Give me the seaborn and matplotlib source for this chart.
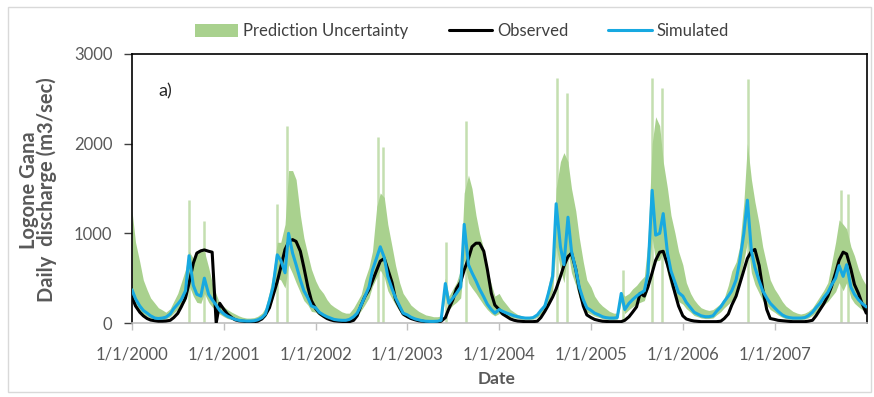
import numpy as np
import pandas as pd
import matplotlib
matplotlib.use("Agg")
import matplotlib.pyplot as plt
import seaborn as sns
from matplotlib.patches import Patch, Rectangle
from matplotlib.lines import Line2D

# ---------------- data (semi-monthly readings: 1st and 15th of each month) ----------------
observed_2000 = [290, 190, 120, 80, 50, 33, 25, 20, 20, 22, 30, 60, 107, 180, 280, 444, 666, 780, 805, 815, 800, 790, 0, 220]
observed_2001 = [150, 100, 60, 35, 25, 20, 15, 15, 15, 20, 45, 90, 170, 300, 460, 620, 820, 900, 930, 910, 800, 620, 400, 250]
observed_2002 = [160, 110, 75, 50, 35, 25, 20, 18, 15, 15, 30, 80, 200, 290, 370, 470, 590, 690, 720, 600, 450, 260, 170, 100]
observed_2003 = [70, 50, 35, 25, 20, 15, 15, 15, 15, 20, 60, 160, 260, 380, 460, 590, 720, 850, 890, 890, 800, 600, 330, 200]
observed_2004 = [150, 100, 70, 45, 30, 22, 18, 15, 15, 15, 20, 60, 130, 200, 290, 380, 520, 640, 740, 780, 600, 370, 190, 90]
observed_2005 = [60, 40, 28, 20, 18, 15, 15, 15, 15, 30, 70, 120, 180, 330, 300, 400, 560, 700, 790, 800, 650, 500, 330, 190]
observed_2006 = [80, 45, 30, 22, 18, 15, 15, 15, 15, 15, 20, 50, 100, 200, 300, 430, 590, 720, 800, 820, 640, 380, 150, 50]
observed_2007 = [40, 30, 25, 20, 18, 15, 15, 15, 15, 20, 30, 80, 150, 210, 300, 400, 560, 700, 790, 770, 600, 430, 330, 220]
observed_end = [110]

simulated_2000 = [370, 270, 190, 140, 110, 80, 55, 50, 55, 65, 100, 160, 210, 260, 360, 750, 420, 320, 300, 500, 320, 260, 200, 140]
simulated_2001 = [100, 75, 55, 40, 30, 25, 22, 22, 25, 35, 60, 100, 250, 400, 760, 700, 560, 1000, 780, 650, 480, 360, 280, 190]
simulated_2002 = [170, 120, 90, 70, 55, 40, 33, 30, 30, 40, 70, 110, 200, 290, 400, 590, 730, 850, 730, 520, 380, 280, 190, 110]
simulated_2003 = [90, 65, 45, 35, 25, 20, 18, 18, 20, 30, 440, 220, 280, 330, 400, 1100, 650, 560, 470, 380, 290, 210, 150, 110]
simulated_2004 = [150, 130, 110, 95, 80, 70, 60, 55, 55, 60, 90, 140, 190, 330, 520, 1330, 850, 650, 1180, 800, 600, 400, 260, 170]
simulated_2005 = [140, 110, 90, 70, 60, 55, 55, 60, 330, 150, 220, 260, 300, 330, 360, 550, 1480, 980, 1000, 1220, 780, 580, 450, 340]
simulated_2006 = [300, 230, 170, 120, 100, 80, 70, 70, 80, 130, 180, 240, 300, 360, 480, 680, 1000, 1370, 800, 620, 470, 360, 280, 220]
simulated_2007 = [170, 130, 90, 70, 60, 55, 55, 55, 60, 80, 120, 170, 220, 280, 340, 420, 500, 640, 520, 650, 400, 320, 260, 220]
simulated_end = [180]

upper_2000 = [1250, 900, 680, 480, 370, 280, 220, 170, 145, 120, 160, 240, 330, 450, 600, 800, 720, 780, 800, 800, 620, 450, 320, 220]
upper_2001 = [180, 150, 120, 100, 80, 65, 55, 55, 60, 75, 110, 170, 350, 550, 900, 900, 1100, 1700, 1700, 1600, 1200, 950, 760, 600]
upper_2002 = [470, 390, 330, 260, 210, 180, 150, 125, 110, 110, 170, 240, 320, 480, 620, 800, 1300, 1450, 1400, 1100, 850, 640, 450, 330]
upper_2003 = [260, 200, 160, 130, 110, 90, 80, 70, 70, 80, 500, 300, 380, 450, 600, 1450, 1650, 1500, 1200, 1000, 820, 600, 430, 300]
upper_2004 = [330, 260, 200, 150, 120, 95, 80, 65, 50, 50, 90, 160, 240, 420, 650, 1500, 1800, 1900, 1800, 1500, 1250, 950, 680, 480]
upper_2005 = [400, 300, 230, 190, 160, 130, 110, 110, 350, 300, 330, 380, 420, 470, 520, 900, 2000, 2300, 2200, 1800, 1500, 1200, 1000, 800]
upper_2006 = [650, 450, 330, 260, 210, 170, 150, 140, 150, 180, 220, 280, 420, 580, 680, 850, 1350, 2000, 1600, 1350, 1100, 850, 650, 480]
upper_2007 = [380, 320, 240, 190, 160, 130, 110, 100, 110, 130, 170, 230, 300, 360, 450, 650, 900, 1150, 1100, 1050, 850, 750, 600, 500]
upper_end = [420]

lower_2000 = [260, 190, 130, 100, 75, 55, 40, 35, 38, 45, 70, 110, 150, 180, 250, 420, 300, 230, 220, 330, 230, 180, 140, 100]
lower_2001 = [70, 50, 38, 28, 20, 17, 15, 15, 17, 25, 40, 70, 170, 280, 500, 480, 390, 650, 550, 450, 340, 250, 200, 130]
lower_2002 = [120, 85, 63, 50, 38, 28, 23, 21, 21, 28, 50, 77, 140, 200, 280, 410, 510, 590, 510, 360, 270, 200, 130, 80]
lower_2003 = [63, 45, 32, 25, 18, 14, 12, 12, 14, 21, 300, 150, 200, 230, 280, 700, 450, 390, 330, 270, 200, 150, 105, 80]
lower_2004 = [105, 90, 77, 66, 56, 49, 42, 38, 38, 42, 63, 98, 130, 230, 360, 850, 600, 450, 800, 560, 420, 280, 180, 120]
lower_2005 = [98, 77, 63, 49, 42, 38, 38, 42, 230, 105, 150, 180, 210, 230, 250, 380, 950, 690, 700, 800, 550, 400, 310, 240]
lower_2006 = [210, 160, 120, 84, 70, 56, 49, 49, 56, 90, 126, 170, 210, 250, 340, 480, 700, 900, 560, 430, 330, 250, 200, 150]
lower_2007 = [120, 90, 63, 49, 42, 38, 38, 38, 42, 56, 84, 120, 150, 200, 240, 290, 350, 450, 360, 450, 280, 220, 180, 150]
lower_end = [125]

# thin daily peaks of the upper uncertainty bound
spike_dates = ["2000-08-16", "2000-10-12", "2001-07-30", "2001-09-08", "2002-09-06", "2002-09-27",
               "2003-06-04", "2003-08-23", "2004-08-19", "2004-09-28", "2005-05-07", "2005-09-01",
               "2005-10-10", "2006-09-16", "2007-09-21", "2007-10-21"]
spike_tops = [1370, 1140, 1330, 2200, 2070, 1960, 900, 2250, 2730, 2570, 590, 2730, 2620, 2720, 1480, 1440]

year_ticks = ["2000-01-01", "2001-01-01", "2002-01-01", "2003-01-01",
              "2004-01-01", "2005-01-01", "2006-01-01", "2007-01-01"]
year_labels = ["1/1/2000", "1/1/2001", "1/1/2002", "1/1/2003",
               "1/1/2004", "1/1/2005", "1/1/2006", "1/1/2007"]
y_ticks = [0, 1000, 2000, 3000]

# ---------------- assemble ----------------
def join(parts):
    out = []
    for p in parts:
        out += p
    return out

observed = join([observed_2000, observed_2001, observed_2002, observed_2003, observed_2004,
                 observed_2005, observed_2006, observed_2007, observed_end])
simulated = join([simulated_2000, simulated_2001, simulated_2002, simulated_2003, simulated_2004,
                  simulated_2005, simulated_2006, simulated_2007, simulated_end])
upper = join([upper_2000, upper_2001, upper_2002, upper_2003, upper_2004,
              upper_2005, upper_2006, upper_2007, upper_end])
lower = join([lower_2000, lower_2001, lower_2002, lower_2003, lower_2004,
              lower_2005, lower_2006, lower_2007, lower_end])

dates = pd.date_range("2000-01-01", "2008-01-01", freq="SMS")
df = pd.DataFrame({"date": dates, "observed": observed, "simulated": simulated,
                   "upper": upper, "lower": lower})

# ---------------- style ----------------
sns.set_theme(style="white")
plt.rcParams["font.family"] = ["Lato", "DejaVu Sans"]

GREEN = "#A9D18E"
SPIKE = "#C4DFB0"
BLUE = "#17A9E1"
GREY_TXT = "#595959"

fig = plt.figure(figsize=(8.74, 3.97), dpi=100)
ax = fig.add_axes([132 / 874, 1 - 323 / 397, (867 - 132) / 874, (323 - 54) / 397])

ax.vlines(pd.to_datetime(spike_dates), 0, spike_tops, color=SPIKE, linewidth=1.8, zorder=1)
ax.fill_between(df["date"], df["lower"], df["upper"], color=GREEN, linewidth=0, zorder=2)
sns.lineplot(data=df, x="date", y="observed", color="black", linewidth=2.2, ax=ax, zorder=3)
sns.lineplot(data=df, x="date", y="simulated", color=BLUE, linewidth=2.2, ax=ax, zorder=4)

ax.set_xlim(pd.Timestamp("2000-01-01"), pd.Timestamp("2008-01-04"))
ax.set_ylim(0, 3000)
ax.set_yticks(y_ticks)
ax.set_yticklabels([str(v) for v in y_ticks])
ax.set_xticks(pd.to_datetime(year_ticks))
ax.set_xticklabels(year_labels)
ax.set_xlabel("")
ax.set_ylabel("")

ax.tick_params(axis="y", direction="out", length=6, width=1, color="#404040",
               labelsize=12, labelcolor=GREY_TXT, pad=8, left=True)
ax.tick_params(axis="x", direction="out", length=5, width=1, color="#BFBFBF",
               labelsize=12, labelcolor=GREY_TXT, pad=12, bottom=True)

for side in ["top", "left", "right"]:
    ax.spines[side].set_visible(True)
    ax.spines[side].set_color("black")
    ax.spines[side].set_linewidth(1.2)
ax.spines["bottom"].set_color("#BFBFBF")
ax.spines["bottom"].set_linewidth(1.2)
ax.grid(False)

ax.text(0.045, 0.86, "a)", transform=ax.transAxes, fontsize=13, color="#262626",
        ha="center", va="center")

fig.text(38 / 874, 1 - 190 / 397, "Logone Gana\nDaily  discharge (m3/sec)", rotation=90,
         ha="center", va="center", multialignment="center", fontsize=14.5,
         fontweight="bold", color=GREY_TXT, linespacing=0.8)
fig.text(497 / 874, 1 - 379 / 397, "Date", ha="center", va="center", fontsize=12.5,
         fontweight="bold", color=GREY_TXT)

handles = [Patch(facecolor=GREEN, edgecolor="none", label="Prediction Uncertainty"),
           Line2D([0], [0], color="black", linewidth=2.2, label="Observed"),
           Line2D([0], [0], color=BLUE, linewidth=2.2, label="Simulated")]
fig.legend(handles=handles, loc="center", bbox_to_anchor=(462 / 874, 1 - 31 / 397), ncol=3,
           frameon=False, fontsize=12, handlelength=2.6, handleheight=0.8,
           handletextpad=0.3, columnspacing=2.4, labelcolor="#404040")

fig.add_artist(Rectangle((8 / 874, 5 / 397), 863 / 874, 385 / 397, transform=fig.transFigure,
                         fill=False, edgecolor="#D9D9D9", linewidth=1))

fig.savefig("out.png", dpi=100)
